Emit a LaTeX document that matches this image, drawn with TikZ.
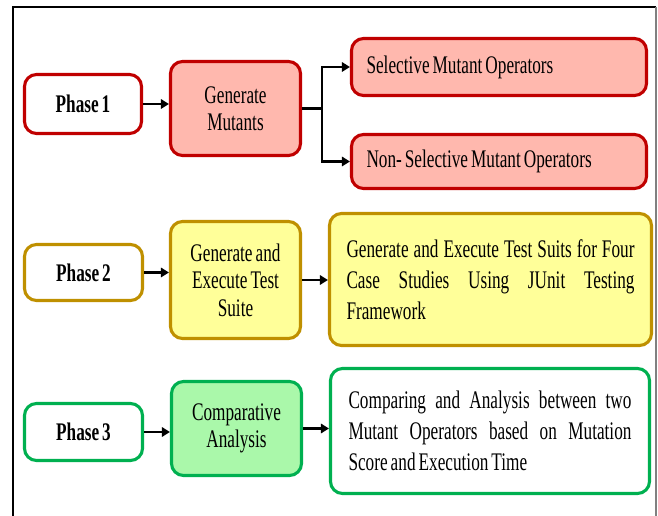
\documentclass[tikz,border=0pt]{standalone}
\usepackage{fontspec}
\setmainfont[FakeStretch=0.68, WordSpace=0.7]{Liberation Serif}
\usetikzlibrary{arrows.meta}
\hyphenpenalty=10000
\exhyphenpenalty=10000

\definecolor{redline}{RGB}{192,0,0}
\definecolor{redfill}{RGB}{255,184,174}
\definecolor{goldline}{RGB}{191,144,0}
\definecolor{goldfill}{RGB}{255,255,153}
\definecolor{greenline}{RGB}{0,176,80}
\definecolor{greenfill}{RGB}{170,248,170}

\begin{document}
\begin{tikzpicture}[x = 0.75pt, y = -0.75pt,
	box/.style = {draw, line width = 2.3pt, rounded corners = 9pt, inner sep = 0pt,
		font = \fontsize{19}{20.6}\selectfont},
	phasebox/.style = {box, fill = white, align = center, font = \fontsize{19}{20.6}\selectfont\bfseries},
	stepbox/.style = {box, align = center},
	infobox/.style = {box, align = justify, font = \fontsize{19}{23.3}\selectfont},
	arr/.style = {-{Triangle[length = 6pt, width = 7pt]}, line width = 1.6pt}]
				%	frame
				\def\u{0.75pt}
				\useasboundingbox (0, 0) rectangle (658, 516);
				\draw[line width = 2.2pt] (13, 530) -- (13, 7) -- (656, 7);
				\draw[gray, line width = 0.8pt] (656, 7) -- (656, 530);
				
				%	phase 1
				\node[phasebox, draw = redline, minimum width = 117*\u, minimum height = 59*\u] (p1) at (83, 104) {Phase 1};
				\node[stepbox, draw = redline, fill = redfill, minimum width = 130*\u, minimum height = 94*\u] (gm) at (235.5, 108.5) {Generate\\Mutants};
				\node[stepbox, draw = redline, fill = redfill, minimum width = 295*\u, minimum height = 57*\u, text width = 265*\u, align = justify] (sel) at (499, 67) {Selective Mutant Operators};
				\node[stepbox, draw = redline, fill = redfill, minimum width = 295*\u, minimum height = 54*\u, text width = 265*\u, align = justify] (nonsel) at (499, 161.5) {Non- Selective Mutant Operators};
				
				%	phase 2
				\node[phasebox, draw = goldline, minimum width = 118*\u, minimum height = 56*\u] (p2) at (83.5, 272.5) {Phase 2};
				\node[stepbox, draw = goldline, fill = goldfill, minimum width = 130*\u, minimum height = 117*\u] (gets) at (235.5, 280) {Generate and\\Execute Test\\Suite};
				\node[infobox, draw = goldline, fill = goldfill, minimum width = 322*\u, minimum height = 132*\u, text width = 288*\u] (tests) at (490.5, 279.5) {Generate and Execute Test Suits for Four\linebreak Case Studies Using JUnit Testing\linebreak Framework};
				
				%	phase 3
				\node[phasebox, draw = greenline, minimum width = 118*\u, minimum height = 57*\u] (p3) at (83.5, 432) {Phase 3};
				\node[stepbox, draw = greenline, fill = greenfill, minimum width = 130*\u, minimum height = 94*\u] (ca) at (236.5, 428.5) {Comparative\\Analysis};
				\node[infobox, draw = greenline, fill = white, minimum width = 319*\u, minimum height = 125*\u, text width = 283*\u] (cmp) at (490, 431) {Comparing and Analysis between two\linebreak Mutant Operators based on Mutation\linebreak Score and Execution Time};
				
				%	arrows
				\draw[arr] (p1.east) -- (p1.east -| gm.west);
				\draw[arr] (gm.east) -- ++(20, 0) coordinate (fork) |- (sel.west);
				\draw[arr] (fork) |- (nonsel.west);
				\draw[arr] (p2.east) -- (p2.east -| gets.west);
				\draw[arr] (gets.east) -- (gets.east -| tests.west);
				\draw[arr] (p3.east) -- (p3.east -| ca.west);
				\draw[arr] (ca.east) -- (ca.east -| cmp.west);
\end{tikzpicture}
\end{document}
